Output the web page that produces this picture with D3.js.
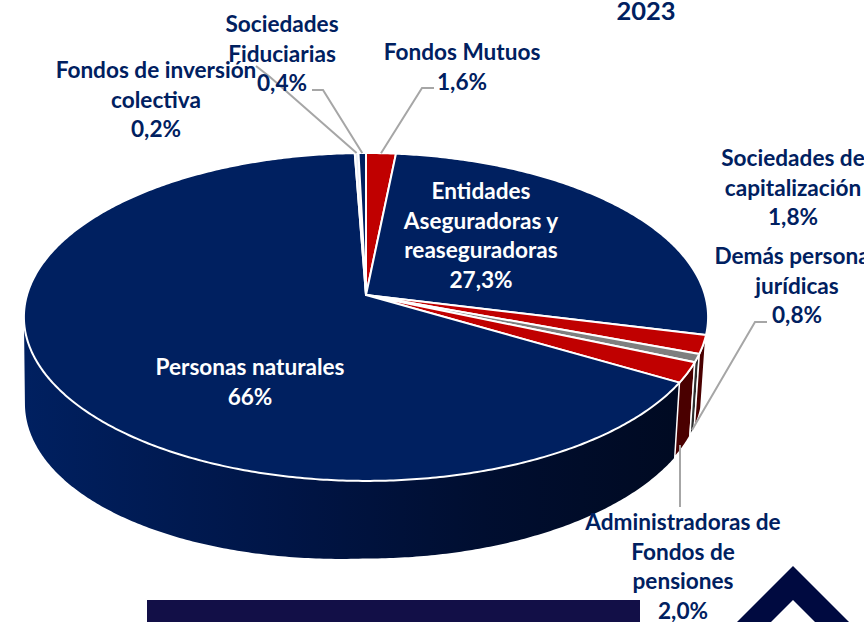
<!DOCTYPE html>
<html>
<head>
<meta charset="utf-8">
<script src="https://cdn.jsdelivr.net/npm/d3@7"></script>
<style>
  html, body { margin: 0; padding: 0; background: #fff; overflow: hidden; }
  svg { display: block; }
  text { font-family: Lato, "Open Sans", sans-serif; font-weight: 700; font-size: 22.6px; text-anchor: middle; }
</style>
</head>
<body>
<svg id="vis" width="864" height="622"></svg>
<script>
// values, clockwise from 12 o'clock
const categories = [
  "Fondos Mutuos",
  "Entidades Aseguradoras y reaseguradoras",
  "Sociedades de capitalización",
  "Demás personas jurídicas",
  "Administradoras de Fondos de pensiones",
  "Personas naturales",
  "Fondos de inversión colectiva",
  "Sociedades Fiduciarias"
];
const values = [1.6, 27.3, 1.8, 0.8, 2.0, 66, 0.2, 0.4];
const valueLabels = ["1,6%", "27,3%", "1,8%", "0,8%", "2,0%", "66%", "0,2%", "0,4%"];
const labelLines = [
  ["Fondos Mutuos"],
  ["Entidades", "Aseguradoras y", "reaseguradoras"],
  ["Sociedades de", "capitalización"],
  ["Demás personas", "jurídicas"],
  ["Administradoras de", "Fondos de", "pensiones"],
  ["Personas naturales"],
  ["Fondos de inversión", "colectiva"],
  ["Sociedades", "Fiduciarias"]
];
const title = "2023";

// layout, same order as categories
const topColors = ["#c00000", "#002060", "#c00000", "#7f7f7f", "#c00000", "#002060", "#e9edf4", "#002060"];
const wallColors = [null, null, "#4a0000", "#2e2e2e", "#4a0000", "url(#navyWall)", null, null];
const labelPos = [[462, 60], [481, 199], [793, 166], [797, 264], [683, 530], [250, 375], [156, 78], [282, 32]];
const leaders = [
  [[434, 88], [422, 88]],
  null,
  null,
  [[767, 322], [755, 322]],
  [[680, 507], [680, 445]],
  null,
  [[256, 66], [270, 77]],
  [[312, 90], [323, 90]]
];
const lineH = 29.5;

const svg = d3.select("svg#vis");

// navy side wall gets darker to the right
const grad = svg.append("defs").append("linearGradient")
  .attr("id", "navyWall")
  .attr("gradientUnits", "userSpaceOnUse")
  .attr("x1", 24).attr("x2", 680).attr("y1", 0).attr("y2", 0);
grad.append("stop").attr("offset", "0").attr("stop-color", "#002060");
grad.append("stop").attr("offset", "0.4").attr("stop-color", "#001546");
grad.append("stop").attr("offset", "0.7").attr("stop-color", "#000e30");
grad.append("stop").attr("offset", "1").attr("stop-color", "#000a22");

// tilted disc with a bit of perspective, apex is not the ellipse centre
const cx = 366, cy = 295, rx = 339, ry = 161, k = 0.134;
const bottom = { cy: 367, sxLeft: 0.997, sxRight: 0.985, sy: 1.03, leftDrop: 14 };

function topPt(a) {
  const u = Math.sin(a), v = -Math.cos(a), s = 1 / (1 - k * v);
  return [cx + rx * u * s, cy + ry * v * s];
}
function botPt(a) {
  const u = Math.sin(a), v = -Math.cos(a), s = 1 / (1 - k * v);
  const sx = u < 0 ? bottom.sxLeft : bottom.sxRight;
  // the wall is a little deeper on the left side
  const drop = u < 0 ? -u * bottom.leftDrop : 0;
  return [cx + rx * u * s * sx, bottom.cy + ry * v * s * bottom.sy + drop];
}
function sweep(a0, a1) {
  const n = Math.max(2, Math.ceil((a1 - a0) / 0.01));
  return d3.range(n + 1).map(i => a0 + (a1 - a0) * i / n);
}

const line = d3.line();
const pie = d3.pie().sort(null).value(d => d);
const arcs = pie(values);

// walls stop at the left silhouette of the disc
const wallEnd = 262.3 * Math.PI / 180;
const walls = arcs.map((d, i) => ({ i, a0: d.startAngle, a1: Math.min(d.endAngle, wallEnd) }))
  .filter(d => wallColors[d.i]);

svg.append("g").selectAll("path")
  .data(walls)
  .join("path")
  .attr("d", d => {
    const as = sweep(d.a0, d.a1);
    return line(as.map(topPt).concat(as.slice().reverse().map(botPt))) + "Z";
  })
  .attr("fill", d => wallColors[d.i])
  .attr("stroke", d => d.i === 5 ? "none" : "#fff")
  .attr("stroke-width", 1.5)
  .sort((a, b) => b.i - a.i);

// top face
svg.append("g").selectAll("path")
  .data(arcs)
  .join("path")
  .attr("d", d => line([[cx, cy]].concat(sweep(d.startAngle, d.endAngle).map(topPt))) + "Z")
  .attr("fill", (d, i) => topColors[i])
  .attr("stroke", "#fff")
  .attr("stroke-width", 2)
  .attr("stroke-linejoin", "round");

// leader lines run from the label to the slice
const leaderEnd = (d, i) => {
  const mid = (d.startAngle + d.endAngle) / 2;
  if (i === 3) return [692, 430];
  return topPt(mid);
};
svg.append("g").selectAll("path")
  .data(arcs.map((d, i) => ({ d, i })).filter(o => leaders[o.i]))
  .join("path")
  .attr("d", o => line(o.i === 4 ? leaders[o.i] : leaders[o.i].concat([leaderEnd(o.d, o.i)])))
  .attr("fill", "none")
  .attr("stroke", "#a6a6a6")
  .attr("stroke-width", 2);

// labels
const labels = svg.append("g").selectAll("text")
  .data(categories)
  .join("text")
  .attr("fill", (d, i) => (i === 1 || i === 5) ? "#fff" : "#002060")
  .attr("transform", (d, i) => `translate(${labelPos[i]})`);
labels.selectAll("tspan")
  .data((d, i) => labelLines[i].concat(valueLabels[i]))
  .join("tspan")
  .attr("x", 0)
  .attr("y", (d, j) => j * lineH)
  .text(d => d);

svg.append("text").attr("x", 646).attr("y", 20)
  .attr("fill", "#002060").style("font-size", "25.5px").text(title);

// bits of the slide showing at the bottom edge
svg.append("rect").attr("x", 147).attr("y", 600).attr("width", 493).attr("height", 22).attr("fill", "#120f47");
svg.append("path")
  .attr("d", "M793,566L849,622L815,622L793,600L771,622L737,622Z")
  .attr("fill", "#000a40");
</script>
</body>
</html>
